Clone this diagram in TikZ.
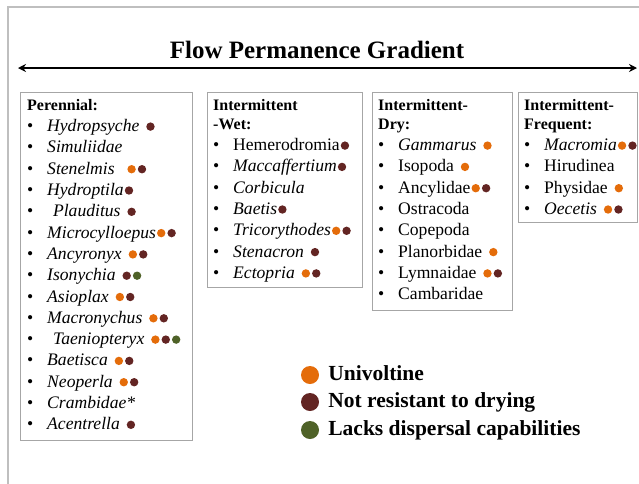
\documentclass[tikz,border=0pt]{standalone}
\usepackage{fontspec}
\setmainfont{Liberation Serif}
\usetikzlibrary{arrows.meta,positioning}

\definecolor{univolt}{HTML}{E46C0A}
\definecolor{nodry}{HTML}{632523}
\definecolor{nodisp}{HTML}{4F6228}
\definecolor{boxgray}{HTML}{A6A6A6}
\definecolor{framegray}{HTML}{BFBFBF}
\setlength{\parindent}{0pt}

\newcommand{\spot}[1]{\hspace{1pt}\tikz[baseline=-5pt]\fill[#1] (0pt,0pt) circle (4.2pt);\hspace{1pt}}
\newcommand{\itm}[1]{\par\makebox[20pt][l]{•}#1}
\newcommand{\hd}[1]{{\fontsize{16}{19}\selectfont\bfseries #1\par}}

\begin{document}
\begin{tikzpicture}[x=1pt, y=-1pt,
    taxbox/.style={draw=boxgray, line width=1pt, anchor=north west, inner sep=0pt},
    taxlist/.style={anchor=north west, inner sep=0pt, text width=#1,
                    font=\fontsize{17.6}{21.3}\selectfont},
    legdot/.style={circle, inner sep=0pt, minimum size=18pt},
    legtext/.style={inner sep=0pt, text height=14pt, text depth=4pt,
                    font=\bfseries\fontsize{21.5}{26}\selectfont}]
\useasboundingbox (0,0) rectangle (639,483);
\draw[framegray, line width=1.2pt] (8,500) -- (8,7) -- (660,7);

\node[font=\bfseries\fontsize{25}{30}\selectfont] (title) at (317,50) {Flow Permanence Gradient};
\coordinate (gradlo) at (18,68);
\coordinate (gradhi) at (637,68);
\draw[{Stealth[length=8pt,width=8pt]}-{Stealth[length=8pt,width=8pt]}, line width=1.8pt] (gradlo) -- (gradhi);

\node[taxbox, minimum width=172pt, minimum height=348pt] (perennial) at (20,92) {};
\node[taxlist=165pt] (perennial-list) at ([shift={(7pt,-7pt)}]perennial.north west) {%
\hd{Perennial:}
\itm{\textit{Hydropsyche} \spot{nodry}}
\itm{\textit{Simuliidae}}
\itm{\textit{Stenelmis} \ \spot{univolt}\spot{nodry}}
\itm{\textit{Hydroptila}\spot{nodry}}
\itm{\ \textit{Plauditus} \spot{nodry}}
\itm{\textit{Microcylloepus}\spot{univolt}\spot{nodry}}
\itm{\textit{Ancyronyx} \spot{univolt}\spot{nodry}}
\itm{\textit{Isonychia} \spot{nodry}\spot{nodisp}}
\itm{\textit{Asioplax} \spot{univolt}\spot{nodry}}
\itm{\textit{Macronychus} \spot{univolt}\spot{nodry}}
\itm{\ \textit{Taeniopteryx} \spot{univolt}\spot{nodry}\spot{nodisp}}
\itm{\textit{Baetisca} \spot{univolt}\spot{nodry}}
\itm{\textit{Neoperla} \spot{univolt}\spot{nodry}}
\itm{\textit{Crambidae*}}
\itm{\textit{Acentrella} \spot{nodry}}};

\node[taxbox, minimum width=155pt, minimum height=195pt] (wet) at (207,92) {};
\node[taxlist=150pt] (wet-list) at ([shift={(6pt,-7pt)}]wet.north west) {%
\hd{Intermittent\\ -Wet:}
\itm{Hemerodromia\spot{nodry}}
\itm{\textit{Maccaffertium}\spot{nodry}}
\itm{\textit{Corbicula}}
\itm{\textit{Baetis}\spot{nodry}}
\itm{\textit{Tricorythodes}\spot{univolt}\spot{nodry}}
\itm{\textit{Stenacron} \spot{nodry}}
\itm{\textit{Ectopria} \spot{univolt}\spot{nodry}}};

\node[taxbox, minimum width=140pt, minimum height=218pt] (dry) at (372,92) {};
\node[taxlist=135pt] (dry-list) at ([shift={(6pt,-7pt)}]dry.north west) {%
\hd{Intermittent-\\Dry:}
\itm{\textit{Gammarus} \spot{univolt}}
\itm{Isopoda \spot{univolt}}
\itm{Ancylidae\spot{univolt}\spot{nodry}}
\itm{Ostracoda}
\itm{Copepoda}
\itm{Planorbidae \spot{univolt}}
\itm{Lymnaidae \spot{univolt}\spot{nodry}}
\itm{Cambaridae}};

\node[taxbox, minimum width=119pt, minimum height=130pt] (frequent) at (518,92) {};
\node[taxlist=130pt] (frequent-list) at ([shift={(6pt,-7pt)}]frequent.north west) {%
\hd{Intermittent-\\Frequent:}
\itm{\textit{Macromia}\spot{univolt}\spot{nodry}}
\itm{Hirudinea}
\itm{Physidae \spot{univolt}}
\itm{\textit{Oecetis} \spot{univolt}\spot{nodry}}};

\node[legdot, fill=univolt] (univoltine) at (310,375) {};
\node[legtext, right=9pt of univoltine] (univoltine-text) {Univoltine};
\node[legdot, fill=nodry] (drying) at (310,402) {};
\node[legtext, right=9pt of drying] (drying-text) {Not resistant to drying};
\node[legdot, fill=nodisp] (dispersal) at (310,430) {};
\node[legtext, right=9pt of dispersal] (dispersal-text) {Lacks dispersal capabilities};
\end{tikzpicture}
\end{document}
